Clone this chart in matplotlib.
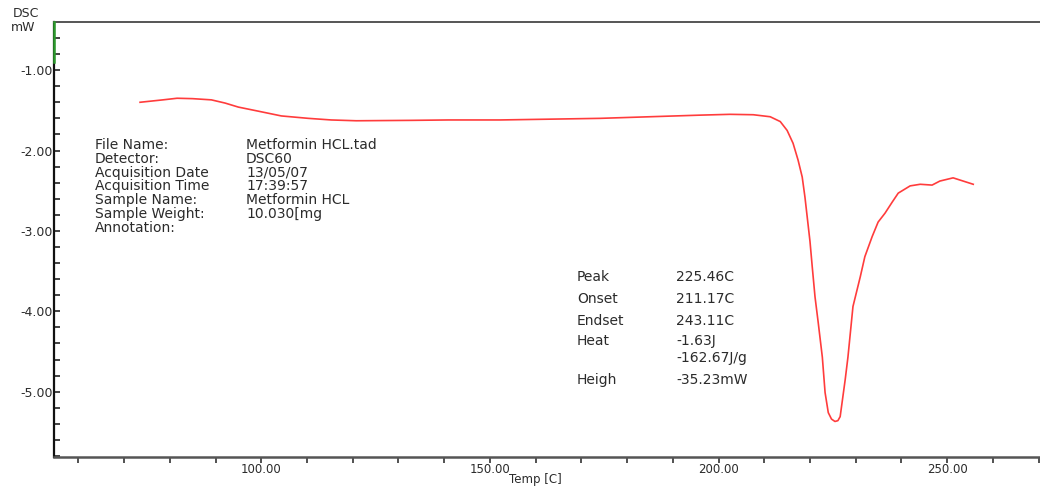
import matplotlib
matplotlib.use('Agg')
import matplotlib.pyplot as plt
from matplotlib.ticker import MultipleLocator, FixedLocator

# DSC trace: temperature [C] vs heat flow [mW]
temp = [73.5, 78.5, 81.6, 85.0, 89.1, 92.1, 95.0, 99.3, 104.4, 110.3,
        115.3, 120.8, 132.8, 140.9, 152.2, 163.2, 174.1, 185.0, 196.0,
        202.5, 207.6, 211.3, 213.5, 215.0, 216.3, 217.4, 218.3, 218.9,
        219.4, 220.0, 220.5, 221.1, 221.8, 222.7, 223.3, 224.0, 224.7,
        225.46, 226.1, 226.6, 227.7, 228.3, 229.4, 231.0, 232.0, 233.6,
        234.9, 236.4, 238.0, 239.3, 241.9, 244.1, 246.7, 248.4, 251.3,
        253.5, 255.7]
dsc = [-1.40, -1.37, -1.35, -1.355, -1.37, -1.41, -1.46, -1.51, -1.57, -1.60,
       -1.62, -1.63, -1.625, -1.62, -1.62, -1.61, -1.60, -1.58, -1.56,
       -1.55, -1.555, -1.58, -1.64, -1.75, -1.91, -2.12, -2.33, -2.58,
       -2.83, -3.13, -3.45, -3.82, -4.14, -4.57, -5.01, -5.26, -5.34,
       -5.37, -5.36, -5.31, -4.85, -4.57, -3.94, -3.57, -3.32, -3.07,
       -2.89, -2.78, -2.64, -2.53, -2.44, -2.42, -2.43, -2.38, -2.34,
       -2.38, -2.42]

x_major = [100, 150, 200, 250]
x_labels = ['100.00', '150.00', '200.00', '250.00']
y_major = [-5, -4, -3, -2, -1]
y_labels = ['-5.00', '-4.00', '-3.00', '-2.00', '-1.00']

info_keys = ['File Name:', 'Detector:', 'Acquisition Date', 'Acquisition Time',
             'Sample Name:', 'Sample Weight:', 'Annotation:']
info_vals = ['Metformin HCL.tad', 'DSC60', '13/05/07', '17:39:57',
             'Metformin HCL', '10.030[mg', '']

result_keys = ['Peak', 'Onset', 'Endset', 'Heat', '', 'Heigh']
result_vals = ['225.46C', '211.17C', '243.11C', '-1.63J', '-162.67J/g',
               '-35.23mW']

plt.rcParams['font.family'] = ['DejaVu Sans']
txt = '#2b2b2b'

fig = plt.figure(figsize=(10.4, 4.86), dpi=100)
ax = fig.add_axes([0.052, 0.06, 0.948, 0.895])

ax.plot(temp, dsc, color='#ff3c3c', lw=1.2)

ax.set_xlim(54.7, 270.3)
ax.set_ylim(-5.81, -0.40)

ax.xaxis.set_major_locator(FixedLocator(x_major))
ax.set_xticklabels(x_labels)
ax.xaxis.set_minor_locator(MultipleLocator(10))
ax.yaxis.set_major_locator(FixedLocator(y_major))
ax.set_yticklabels(y_labels)
ax.yaxis.set_minor_locator(MultipleLocator(0.2))

ax.tick_params(axis='x', which='both', direction='out', length=4,
               width=1.2, color='#333333', labelsize=8.5, labelcolor=txt,
               pad=0.5)
ax.tick_params(axis='y', which='both', direction='in', length=4,
               width=1.2, color='#222222', labelsize=9, labelcolor=txt, pad=1)

ax.spines['right'].set_visible(False)
ax.spines['left'].set_color('#111111')
ax.spines['left'].set_linewidth(1.6)
ax.spines['bottom'].set_color('#555555')
ax.spines['bottom'].set_linewidth(1.8)
ax.spines['top'].set_color('#555555')
ax.spines['top'].set_linewidth(1.4)

# green marker segment at the top of the y axis
ax.plot([54.7, 54.7], [-0.90, -0.40], color='#2c9a2c', lw=1.8,
        clip_on=False, zorder=5)

fig.text(0.012, 0.972, 'DSC', fontsize=9, color=txt, va='center')
fig.text(0.010, 0.944, 'mW', fontsize=9, color=txt, va='center')
fig.text(535 / 1040, 0.001, 'Temp [C]', fontsize=8.5, color=txt,
         ha='center', va='bottom')

# file information block
for i, (k, v) in enumerate(zip(info_keys, info_vals)):
    y = 1 - (145 + i * 13.8) / 486
    fig.text(95 / 1040, y, k, fontsize=10, color=txt, va='center')
    fig.text(246 / 1040, y, v, fontsize=10, color=txt, va='center')

# peak analysis results
row_y = [277, 299, 321, 341, 358, 380]
for k, v, ry in zip(result_keys, result_vals, row_y):
    y = 1 - ry / 486
    fig.text(577 / 1040, y, k, fontsize=10, color=txt, va='center')
    fig.text(676 / 1040, y, v, fontsize=10, color=txt, va='center')

fig.savefig('out.png', dpi=100)
